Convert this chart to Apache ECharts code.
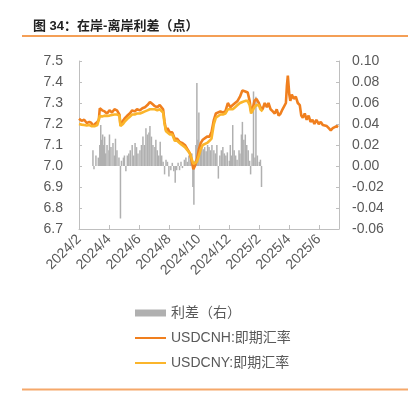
<!DOCTYPE html>
<html><head><meta charset="utf-8">
<script src="https://cdn.jsdelivr.net/npm/echarts@6/dist/echarts.min.js"></script>
<style>html,body{margin:0;padding:0;background:#fff;}#c{width:413px;height:395px;}</style>
</head><body><div id="c"></div>
<script>
var titleText = '图 34：在岸-离岸利差（点）';
var xTickLabels = ['2024/2','2024/4','2024/6','2024/8','2024/10','2024/12','2025/2','2025/4','2025/6'];
var leftTicks = [6.7, 7.5, 0.1];
var rightTicks = [-0.06, 0.10, 0.02];

var lineDates = ['2024-02-01','2024-02-06','2024-02-11','2024-02-16','2024-02-21','2024-02-25','2024-02-28','2024-03-03','2024-03-08','2024-03-11','2024-03-13','2024-03-18','2024-03-23','2024-03-28','2024-04-02','2024-04-07','2024-04-12','2024-04-17','2024-04-22','2024-04-24','2024-04-29','2024-05-02','2024-05-08','2024-05-13','2024-05-18','2024-05-23','2024-05-28','2024-06-03','2024-06-08','2024-06-13','2024-06-18','2024-06-23','2024-06-28','2024-07-03','2024-07-08','2024-07-13','2024-07-17','2024-07-20','2024-07-23','2024-07-26','2024-07-29','2024-08-03','2024-08-08','2024-08-13','2024-08-18','2024-08-23','2024-08-28','2024-09-03','2024-09-08','2024-09-13','2024-09-17','2024-09-20','2024-09-23','2024-09-27','2024-10-01','2024-10-05','2024-10-09','2024-10-13','2024-10-18','2024-10-23','2024-10-27','2024-11-01','2024-11-05','2024-11-09','2024-11-14','2024-11-19','2024-11-24','2024-11-29','2024-12-04','2024-12-09','2024-12-14','2024-12-19','2024-12-24','2024-12-29','2025-01-04','2025-01-09','2025-01-13','2025-01-16','2025-01-19','2025-01-23','2025-01-27','2025-02-01','2025-02-04','2025-02-08','2025-02-12','2025-02-16','2025-02-19','2025-02-23','2025-02-27','2025-03-03','2025-03-07','2025-03-11','2025-03-15','2025-03-19','2025-03-23','2025-03-26','2025-03-28','2025-03-30','2025-04-02','2025-04-04','2025-04-07','2025-04-11','2025-04-15','2025-04-19','2025-04-23','2025-04-26','2025-04-29','2025-05-03','2025-05-07','2025-05-11','2025-05-15','2025-05-19','2025-05-23','2025-05-27','2025-06-01','2025-06-05','2025-06-09','2025-06-13','2025-06-17','2025-06-21','2025-06-25','2025-06-29','2025-07-03','2025-07-07','2025-07-10'];
var cnh = [7.225,7.215,7.22,7.205,7.21,7.205,7.19,7.2,7.21,7.22,7.275,7.265,7.26,7.25,7.265,7.255,7.27,7.265,7.245,7.195,7.215,7.225,7.24,7.25,7.265,7.26,7.27,7.265,7.275,7.28,7.29,7.305,7.295,7.285,7.28,7.29,7.295,7.27,7.21,7.17,7.18,7.16,7.16,7.13,7.13,7.115,7.11,7.1,7.08,7.06,7.02,6.985,7.0,7.03,7.08,7.11,7.125,7.13,7.14,7.14,7.16,7.22,7.25,7.25,7.26,7.255,7.26,7.3,7.28,7.29,7.3,7.31,7.33,7.36,7.355,7.35,7.31,7.26,7.27,7.31,7.32,7.3,7.28,7.27,7.3,7.28,7.3,7.27,7.26,7.25,7.27,7.24,7.25,7.27,7.27,7.3,7.38,7.43,7.34,7.31,7.34,7.32,7.33,7.3,7.29,7.24,7.23,7.25,7.22,7.24,7.21,7.22,7.2,7.22,7.2,7.21,7.195,7.2,7.19,7.18,7.17,7.18,7.18,7.19,7.185];
var cny = [7.2,7.197,7.195,7.193,7.195,7.19,7.185,7.19,7.195,7.2,7.24,7.235,7.24,7.238,7.24,7.243,7.245,7.245,7.24,7.19,7.2,7.21,7.225,7.235,7.245,7.245,7.25,7.25,7.255,7.26,7.265,7.27,7.27,7.27,7.265,7.27,7.27,7.255,7.2,7.165,7.17,7.15,7.15,7.12,7.12,7.11,7.1,7.09,7.075,7.06,7.03,7.01,7.015,7.02,7.05,7.08,7.1,7.1,7.11,7.12,7.13,7.2,7.23,7.235,7.245,7.245,7.25,7.27,7.27,7.27,7.28,7.29,7.3,7.305,7.31,7.31,7.29,7.25,7.255,7.28,7.29,7.29,7.27,7.26];

var spreadDates = ['2024-02-28','2024-03-01','2024-03-05','2024-03-10','2024-03-13','2024-03-15','2024-03-17','2024-03-19','2024-03-21','2024-03-23','2024-03-25','2024-03-28','2024-04-01','2024-04-02','2024-04-05','2024-04-09','2024-04-12','2024-04-14','2024-04-17','2024-04-21','2024-04-24','2024-04-26','2024-04-30','2024-05-02','2024-05-05','2024-05-08','2024-05-11','2024-05-14','2024-05-18','2024-05-21','2024-05-24','2024-05-27','2024-05-30','2024-06-03','2024-06-06','2024-06-09','2024-06-12','2024-06-15','2024-06-18','2024-06-21','2024-06-23','2024-06-26','2024-06-29','2024-07-03','2024-07-05','2024-07-08','2024-07-11','2024-07-14','2024-07-17','2024-07-20','2024-07-23','2024-07-26','2024-07-29','2024-08-01','2024-08-05','2024-08-08','2024-08-11','2024-08-14','2024-08-17','2024-08-20','2024-08-23','2024-08-26','2024-08-29','2024-09-02','2024-09-05','2024-09-08','2024-09-11','2024-09-14','2024-09-17','2024-09-19','2024-09-21','2024-09-23','2024-09-25','2024-09-27','2024-09-29','2024-10-01','2024-10-04','2024-10-07','2024-10-10','2024-10-13','2024-10-16','2024-10-19','2024-10-22','2024-10-25','2024-10-28','2024-11-01','2024-11-04','2024-11-07','2024-11-10','2024-11-13','2024-11-16','2024-11-19','2024-11-22','2024-11-25','2024-11-28','2024-12-02','2024-12-04','2024-12-07','2024-12-09','2024-12-12','2024-12-15','2024-12-18','2024-12-22','2024-12-24','2024-12-27','2024-12-29','2025-01-01','2025-01-04','2025-01-07','2025-01-10','2025-01-13','2025-01-15','2025-01-18','2025-01-21','2025-01-24','2025-01-26','2025-01-29','2025-02-02','2025-02-04','2025-02-06'];
var spread = [0.015,-0.003,0.01,0.008,0.02,0.039,0.025,0.03,0.02,0.028,0.012,0.02,0.015,0.03,0.018,0.022,0.01,0.026,0.015,0.008,-0.05,0.005,0.008,0.01,-0.005,0.01,0.012,0.015,0.02,0.01,0.022,0.018,0.012,0.015,0.02,0.028,0.02,0.036,0.03,0.032,0.038,0.028,0.02,0.018,0.025,0.015,0.01,0.023,0.01,0.004,-0.008,0.006,0.004,-0.01,-0.004,0.003,-0.005,-0.016,-0.004,0.003,-0.004,0.004,-0.002,0.006,0.008,0.004,0.01,0.006,0.012,-0.02,-0.037,0.005,0.02,0.079,0.025,0.051,0.015,0.02,0.016,0.018,0.014,0.02,0.018,0.015,0.02,0.015,0.012,0.02,-0.012,0.01,0.015,0.018,0.012,0.01,0.013,0.005,0.02,0.01,0.039,0.015,0.01,0.006,0.015,0.012,0.03,0.042,0.025,0.03,0.02,0.015,0.005,-0.008,0.012,0.071,0.008,0.066,0.01,0.004,0.006,-0.02];

function toM(s){
  var p = s.split('-'), y = +p[0], m = +p[1], d = +p[2];
  var dim = new Date(y, m, 0).getDate();
  return (y - 2024) * 12 + (m - 2) + (d - 1) / dim;
}
function pairs(dates, vals){
  var out = [];
  for (var i = 0; i < vals.length; i++) out.push([toM(dates[i]), vals[i]]);
  return out;
}
var FF = "'Liberation Sans', Arial, 'Noto Sans CJK SC', sans-serif";
var lineIcon = 'path://M0,0H62V4H0Z';
var chart = echarts.init(document.getElementById('c'), null, {renderer:'canvas'});
chart.setOption({
  animation: false,
  backgroundColor: '#fff',
  textStyle: {fontFamily: FF},
  title: {text: titleText, left: 28, top: 15, textStyle: {fontSize: 13, fontWeight: 'bold', color: '#222', fontFamily: FF}},
  graphic: [
    {type:'line', shape:{x1:22, y1:36, x2:408, y2:36}, style:{stroke:'#f07f1e', lineWidth:1.5}},
    {type:'line', shape:{x1:22, y1:389.5, x2:408, y2:389.5}, style:{stroke:'#f5a86a', lineWidth:2}}
  ],
  grid: {left: 79, right: 74, top: 61, bottom: 166},
  legend: {
    orient: 'vertical', left: 130, top: 301, itemWidth: 31, itemHeight: 7, itemGap: 11,
    textStyle: {fontSize: 14, color: '#595959', fontFamily: FF},
    data: [{name:'利差（右）', icon:'rect'}, {name:'USDCNH:即期汇率', icon: lineIcon}, {name:'USDCNY:即期汇率', icon: lineIcon}]
  },
  xAxis: {
    type: 'value', min: 0, max: 17.35, interval: 2,
    axisLine: {onZero: false, lineStyle: {color: '#bfbfbf'}},
    axisTick: {inside: true, length: 4, lineStyle: {color: '#bfbfbf'}},
    splitLine: {show: false},
    axisLabel: {rotate: 45, fontSize: 14, color: '#595959', margin: 8, showMaxLabel: false,
      formatter: function(v){ var i = Math.round(v / 2); return xTickLabels[i] || ''; }}
  },
  yAxis: [
    {type:'value', min: leftTicks[0], max: leftTicks[1], interval: leftTicks[2],
      axisLine:{show:true, lineStyle:{color:'#bfbfbf'}},
      axisTick:{show:true, inside:true, length:3, lineStyle:{color:'#bfbfbf'}},
      splitLine:{show:false},
      axisLabel:{fontSize:14, color:'#595959', margin:16, formatter:function(v){return v.toFixed(1);}}},
    {type:'value', min: rightTicks[0], max: rightTicks[1], interval: rightTicks[2], position:'right',
      axisLine:{show:true, lineStyle:{color:'#bfbfbf'}},
      axisTick:{show:true, inside:true, length:3, lineStyle:{color:'#bfbfbf'}},
      splitLine:{show:false},
      axisLabel:{fontSize:14, color:'#595959', margin:13, formatter:function(v){return v.toFixed(2);}}}
  ],
  series: [
    {name:'利差（右）', type:'bar', yAxisIndex:1, barWidth:1.5, itemStyle:{color:'#b0b0b0'}, data: pairs(spreadDates, spread), z:1},
    {name:'USDCNH:即期汇率', type:'line', yAxisIndex:0, symbol:'none', showSymbol:false, lineStyle:{width:2.6, color:'#f07f1e'}, itemStyle:{color:'#f07f1e'}, data: pairs(lineDates, cnh), z:2},
    {name:'USDCNY:即期汇率', type:'line', yAxisIndex:0, symbol:'none', showSymbol:false, lineStyle:{width:2.6, color:'#fbb52b'}, itemStyle:{color:'#fbb52b'}, data: pairs(lineDates, cny), z:3}
  ]
});
</script></body></html>
